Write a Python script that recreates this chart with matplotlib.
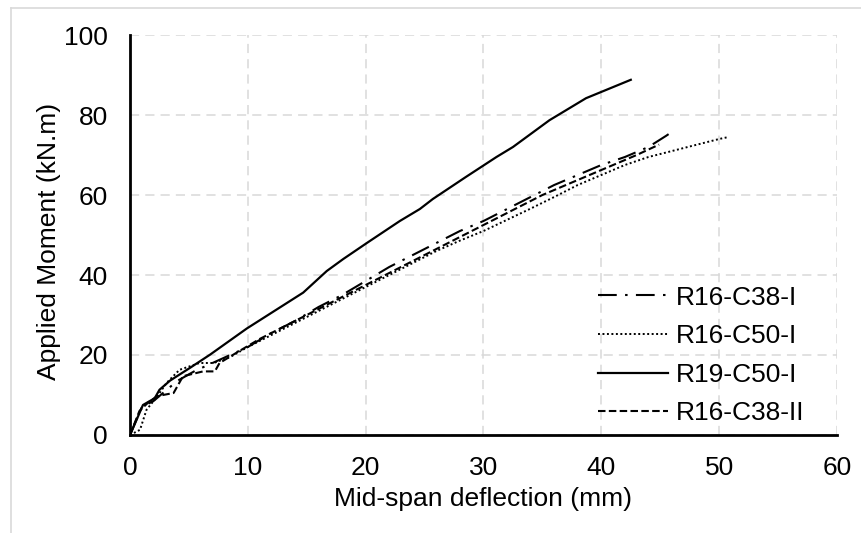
import matplotlib.pyplot as plt
from matplotlib.lines import Line2D

plt.rcParams['font.family'] = ['Liberation Sans', 'DejaVu Sans']

# R16-C38-I (dash-dot)
x_c38_1 = [0, 0.5, 1.0, 2.0, 3.0, 4.0, 5.5, 7.0, 8.5, 10, 12, 14, 16, 18, 20, 22, 24, 26,
           28, 30, 32, 34, 36, 38, 40, 42, 44, 45.5, 46.2]
y_c38_1 = [0, 3.5, 7, 8.5, 11, 13.5, 16, 18, 20, 22, 25.5, 28.5, 32, 35, 38.5, 42, 45, 48,
           51, 53.5, 56.5, 59.5, 62.5, 65, 67.5, 69.5, 72, 74.8, 76.2]

# R16-C50-I (dotted)
x_c50_1 = [0, 0.85, 1.4, 2.3, 3.1, 4.2, 5.9, 7.1, 8.5, 10, 12, 14, 16, 18, 20, 22, 24, 26,
           28, 30, 32, 34, 36, 38, 40, 42, 44, 46, 48, 50, 50.8]
y_c50_1 = [0, 1.3, 6.3, 9.6, 13, 16.3, 18, 18, 19.5, 22, 25, 28, 31, 34, 37, 40, 43, 46,
           48.6, 51, 53.8, 56.6, 59.5, 62.5, 65, 67.5, 69.5, 71, 72.5, 74, 74.5]

# R19-C50-I (solid)
x_r19 = [0, 1.1, 2.1, 2.5, 3.4, 5.1, 6.8, 9.9, 14.7, 16.7, 18.1, 20.1, 22.9, 24.6, 25.7,
         28.5, 31.1, 32.5, 35.6, 38.7, 42.5]
y_r19 = [0, 7.5, 9.2, 11.3, 13.6, 16.8, 20.1, 26.6, 35.6, 41.0, 44.0, 48.0, 53.5, 56.5,
         59.0, 64.5, 69.5, 72.0, 78.7, 84.2, 88.8]

# R16-C38-II (dashed)
x_c38_2 = [0, 0.4, 0.8, 1.5, 2.2, 2.8, 3.7, 4.5, 6.2, 7.2, 7.6, 9, 11, 13, 15, 17, 19, 21,
           23, 25, 27, 29, 31, 33, 35, 37, 39, 41, 43, 44.9]
y_c38_2 = [0, 3, 6, 8, 9.5, 10, 10.5, 14.7, 15.9, 15.9, 18, 20.5, 24, 27, 30, 33, 36, 39,
           42, 45, 48, 51, 54, 57, 60, 62.5, 65, 67.5, 70, 72.6]

fig = plt.figure(figsize=(8.62, 5.33), dpi=100)
ax = fig.add_axes([130 / 862, 1 - 435 / 533, 707 / 862, 400 / 533])

ax.plot(x_c38_1, y_c38_1, color='black', lw=1.5, dashes=(9, 4, 1.2, 4), label='R16-C38-I')
ax.plot(x_c50_1, y_c50_1, color='black', lw=1.4, dashes=(1, 1.3), label='R16-C50-I')
ax.plot(x_r19, y_r19, color='black', lw=1.6, label='R19-C50-I')
ax.plot(x_c38_2, y_c38_2, color='black', lw=1.5, dashes=(3.6, 1.6), label='R16-C38-II')

ax.set_xlim(0, 60)
ax.set_ylim(0, 100)
ax.set_xticks(range(0, 61, 10))
ax.set_yticks(range(0, 101, 20))
ax.grid(True, color='#d9d9d9', lw=1.1, ls=(0, (6, 4)))
ax.set_axisbelow(True)

for s in ['top', 'right']:
    ax.spines[s].set_visible(False)
for s in ['left', 'bottom']:
    ax.spines[s].set_linewidth(2.0)
    ax.spines[s].set_zorder(5)

ax.tick_params(length=0, labelsize=19, colors='black')
ax.tick_params(axis='y', pad=16)
ax.tick_params(axis='x', pad=15)

ax.set_xlabel('Mid-span deflection (mm)', fontsize=19, labelpad=5)
ax.set_ylabel('Applied Moment (kN.m)', fontsize=19)
ax.yaxis.set_label_coords(-0.097, 0.485)

ax.legend(loc='lower right', bbox_to_anchor=(0.988, -0.035), frameon=False, fontsize=19,
          handlelength=2.65, handletextpad=0.3, labelspacing=0.55)

# light frame around the chart area
fig.add_artist(Line2D([11 / 862, 11 / 862], [0, 1 - 8 / 533], color='#d9d9d9', lw=1.2))
fig.add_artist(Line2D([11 / 862, 1], [1 - 8 / 533, 1 - 8 / 533], color='#d9d9d9', lw=1.2))

fig.savefig('out.png', dpi=100)
